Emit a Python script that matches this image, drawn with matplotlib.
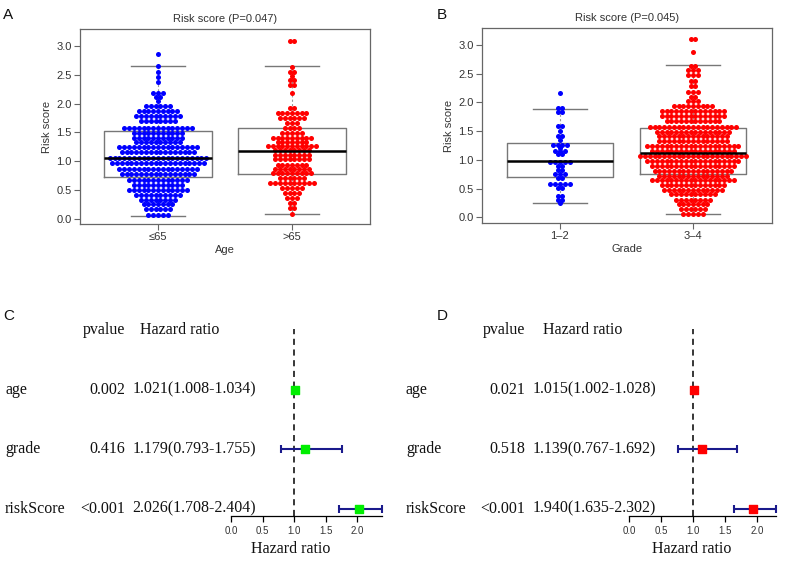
import numpy as np
import matplotlib
matplotlib.use("Agg")
import matplotlib.pyplot as plt
import matplotlib.transforms as mtransforms

# ---------------- data ----------------
# panel A: risk score by age (beeswarm rows: value, number of points in the row)
age_groups = ["≤65", ">65"]
le65_vals = [2.86, 2.65, 2.55, 2.46, 2.37, 2.18, 2.11, 2.04, 1.96, 1.87, 1.78, 1.70,
             1.57, 1.48, 1.40, 1.33, 1.24, 1.15, 1.05, 0.96, 0.87, 0.77, 0.68, 0.59,
             0.50, 0.41, 0.33, 0.25, 0.16, 0.07]
le65_n = [1, 1, 1, 1, 1, 3, 2, 1, 6, 9, 10, 8,
          15, 11, 11, 10, 17, 16, 21, 20, 17, 16, 13, 11,
          13, 10, 8, 7, 6, 5]
gt65_vals = [3.08, 2.64, 2.55, 2.48, 2.41, 2.32, 2.18, 1.93, 1.83, 1.75, 1.66, 1.57,
             1.49, 1.40, 1.33, 1.26, 1.19, 1.11, 1.03, 0.94, 0.86, 0.79, 0.71, 0.62,
             0.54, 0.45, 0.36, 0.27, 0.19, 0.08]
gt65_n = [2, 1, 2, 1, 2, 2, 1, 2, 7, 6, 3, 4,
          5, 9, 7, 11, 8, 8, 8, 7, 8, 9, 6, 10,
          5, 4, 3, 2, 2, 1]
# box stats: whisker low, q1, median, q3, whisker high
age_box = [[0.05, 0.73, 1.05, 1.52, 2.65],
           [0.09, 0.78, 1.17, 1.58, 2.65]]
age_p = 0.047

# panel B: risk score by grade
grade_groups = ["1\u20132", "3\u20134"]
g12_vals = [2.17, 1.90, 1.83, 1.59, 1.51, 1.41, 1.35, 1.26, 1.20, 1.15, 1.10, 0.97,
            0.89, 0.82, 0.75, 0.68, 0.58, 0.51, 0.37, 0.31, 0.25]
g12_n = [1, 2, 2, 2, 1, 2, 1, 4, 1, 3, 2, 5,
         2, 2, 3, 2, 5, 2, 2, 2, 1]
g34_vals = [3.10, 2.87, 2.64, 2.56, 2.47, 2.38, 2.28, 2.19, 2.10, 2.02, 1.94, 1.85,
            1.77, 1.68, 1.58, 1.49, 1.41, 1.32, 1.24, 1.15, 1.07, 0.98, 0.89, 0.81,
            0.72, 0.65, 0.56, 0.48, 0.40, 0.31, 0.23, 0.14, 0.06]
g34_n = [2, 1, 2, 3, 3, 2, 2, 3, 2, 3, 9, 14,
         14, 12, 19, 16, 15, 15, 20, 18, 23, 20, 18, 17,
         15, 18, 14, 13, 10, 8, 7, 6, 5]
grade_box = [[0.25, 0.70, 0.98, 1.29, 1.89],
             [0.06, 0.76, 1.12, 1.56, 2.66]]
grade_p = 0.045

# panels C / D: Cox regression
variables = ["age", "grade", "riskScore"]
c_pval = ["0.002", "0.416", "<0.001"]
c_hr = [1.021, 1.179, 2.026]
c_lo = [1.008, 0.793, 1.708]
c_hi = [1.034, 1.755, 2.404]
d_pval = ["0.021", "0.518", "<0.001"]
d_hr = [1.015, 1.139, 1.940]
d_lo = [1.002, 0.767, 1.635]
d_hi = [1.028, 1.692, 2.302]
hr_ticks = [0.0, 0.5, 1.0, 1.5, 2.0]

# ---------------- figure ----------------
W, H = 790, 561
fig = plt.figure(figsize=(W / 100, H / 100), dpi=100)
SANS = ["Liberation Sans", "DejaVu Sans"]
SERIF = ["Liberation Serif", "DejaVu Serif"]
plt.rcParams["font.family"] = SANS


def px_axes(x0, y0, x1, y1):
    # pixel box (top-left origin) -> figure axes
    return fig.add_axes([x0 / W, 1 - y1 / H, (x1 - x0) / W, (y1 - y0) / H])


def swarm(ax, pos, vals, counts, color, dx=0.036):
    xs, ys = [], []
    for v, n in zip(vals, counts):
        off = (np.arange(n) - (n - 1) / 2) * dx
        xs.extend(pos + off)
        ys.extend([v] * n)
    ax.scatter(xs, ys, s=13, color=color, linewidths=0, zorder=3)


def box_panel(ax, groups, box, swarms, title, xlabel, ylim, xlim):
    stats = [dict(whislo=b[0], q1=b[1], med=b[2], q3=b[3], whishi=b[4]) for b in box]
    bp = ax.bxp(stats, positions=[1, 2], widths=0.8, showfliers=False, capwidths=0.4,
                boxprops=dict(color="#777777", lw=1.0),
                whiskerprops=dict(color="#999999", lw=0.8, ls=(0, (2, 2))),
                capprops=dict(color="#777777", lw=1.0),
                medianprops=dict(color="black", lw=1.8))
    for m in bp["medians"]:
        m.set_zorder(4)
    for i, (vals, n, col) in enumerate(swarms):
        swarm(ax, i + 1, vals, n, col)
    ax.set_xlim(*xlim)
    ax.set_ylim(*ylim)
    ax.set_yticks([0, 0.5, 1.0, 1.5, 2.0, 2.5, 3.0])
    ax.set_yticklabels(["0.0", "0.5", "1.0", "1.5", "2.0", "2.5", "3.0"])
    ax.set_xticks([1, 2])
    ax.set_xticklabels(groups)
    for s in ax.spines.values():
        s.set_color("#666666")
        s.set_linewidth(0.9)
    ax.tick_params(colors="#666666", labelcolor="#333333", labelsize=8,
                   length=4, width=0.8, pad=2)
    ax.set_title(title, fontsize=8, color="#333333", pad=5)
    ax.set_ylabel("Risk score", fontsize=8, color="#333333", labelpad=3)
    ax.set_xlabel(xlabel, fontsize=8, color="#333333", labelpad=2)


axA = px_axes(80, 29, 370, 224)
box_panel(axA, age_groups, age_box,
          [(le65_vals, le65_n, "#0000ff"), (gt65_vals, gt65_n, "#ff0000")],
          f"Risk score (P={age_p})", "Age", (-0.092, 3.295), (0.418, 2.582))

axB = px_axes(482, 28, 772, 223)
box_panel(axB, grade_groups, grade_box,
          [(g12_vals, g12_n, "#0000ff"), (g34_vals, g34_n, "#ff0000")],
          f"Risk score (P={grade_p})", "Grade", (-0.099, 3.296), (0.414, 2.594))


def forest(x_zero, ppu, xmax, pval, hr, lo, hi, sq_color, lab_x, p_right, hr_right,
           hdr_hr_left, xlab_x):
    x0 = x_zero - 0.04 * xmax * ppu
    x1 = x_zero + 1.04 * xmax * ppu
    ax = px_axes(x0, 323, x1, 516)
    ax.set_xlim(-0.04 * xmax, 1.04 * xmax)
    ax.set_ylim(0.88, 4.12)
    n = len(variables)
    ys = np.arange(n, 0, -1)
    hr = np.array(hr)
    lo = np.array(lo)
    hi = np.array(hi)
    ax.vlines(1, 0.88, 4.02, color="black", ls=(0, (4, 3)), lw=1.1, zorder=1)
    ax.errorbar(hr, ys, xerr=[hr - lo, hi - hr], fmt="none", ecolor="#1a1a8c",
                elinewidth=1.5, capsize=3, capthick=1.5, zorder=2)
    ax.scatter(hr, ys, marker="s", s=28, color=sq_color, zorder=3)
    for s in ["left", "right", "top"]:
        ax.spines[s].set_visible(False)
    ax.spines["bottom"].set_bounds(0, xmax)
    ax.spines["bottom"].set_linewidth(0.9)
    ax.set_yticks([])
    ax.set_xticks(hr_ticks)
    ax.set_xticklabels([f"{t:.1f}" for t in hr_ticks])
    ax.tick_params(axis="x", labelsize=7, labelcolor="#333333", length=4, width=0.9, pad=3)
    ax.patch.set_alpha(0)

    tr = mtransforms.blended_transform_factory(fig.transFigure, ax.transData)
    tkw = dict(transform=tr, fontsize=11.5, family=SERIF, va="center", color="#111111")
    fig.text(p_right / W, n + 1, "pvalue", ha="right", **tkw)
    fig.text(hdr_hr_left / W, n + 1, "Hazard ratio", ha="left", **tkw)
    for y, var, p, h, l, u in zip(ys, variables, pval, hr, lo, hi):
        fig.text(lab_x / W, y, var, ha="left", **tkw)
        fig.text(p_right / W, y, p, ha="right", **tkw)
        fig.text(hr_right / W, y, f"{h:.3f}({l:.3f}-{u:.3f})", ha="right", **tkw)
    fig.text(xlab_x / W, 1 - 549 / H, "Hazard ratio", ha="center", va="center",
             fontsize=11.5, family=SERIF, color="#111111")
    return ax


forest(231, 63, max(c_hi), c_pval, c_hr, c_lo, c_hi, "#00ee00",
       5, 125, 256, 140, 291)
forest(629, 64, max(d_hi), d_pval, d_hr, d_lo, d_hi, "#ff0000",
       406, 525, 656, 543, 692)

for letter, (x, y) in zip("ABCD", [(3, 15), (437, 15), (3, 316), (437, 316)]):
    fig.text(x / W, 1 - y / H, letter, fontsize=11, ha="left", va="center", color="#111111")

fig.savefig("out.png", dpi=100)
